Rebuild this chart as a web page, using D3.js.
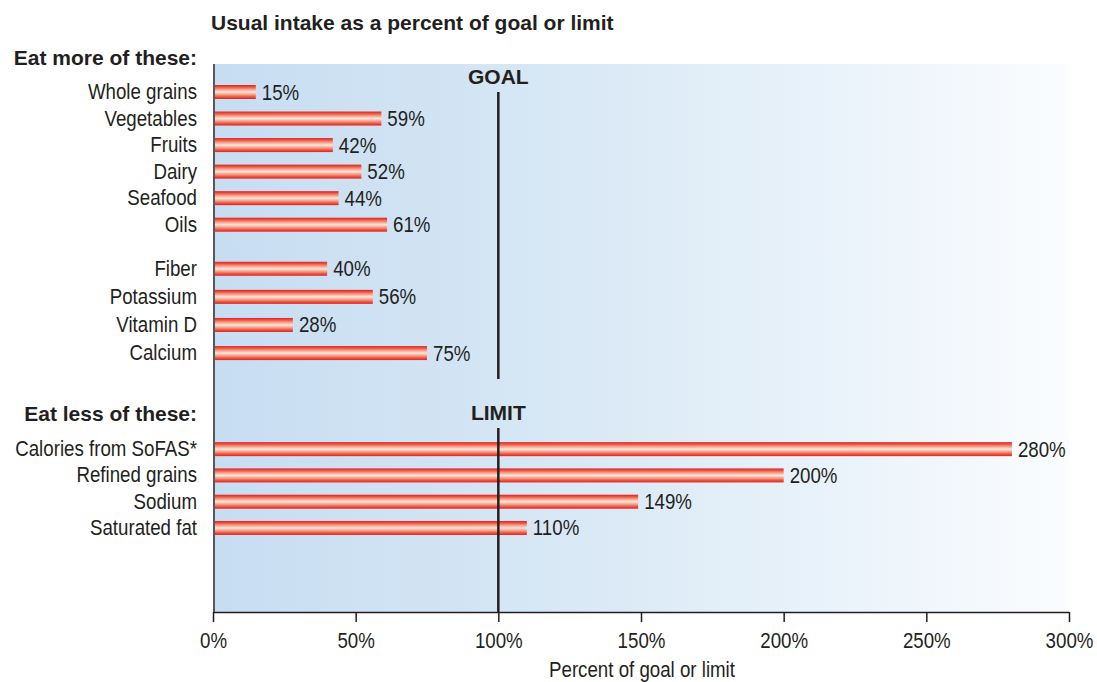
<!DOCTYPE html>
<html>
<head>
<meta charset="utf-8">
<script src="https://cdn.jsdelivr.net/npm/d3@7"></script>
<style>
  html, body { margin: 0; padding: 0; background: #fff; }
  svg { display: block; }
  .narrow { font-family: "Liberation Sans", Arial, sans-serif; fill: #231f20; }
  .bold { font-family: "Liberation Sans", Arial, sans-serif; font-weight: bold; fill: #231f20; }
</style>
</head>
<body>
<svg id="chart" width="1097" height="682"></svg>
<script>
// Food groups and nutrients to eat more of
const moreFoods = ["Whole grains", "Vegetables", "Fruits", "Dairy", "Seafood", "Oils"];
const moreFoodValues = [15, 59, 42, 52, 44, 61];
const moreNutrients = ["Fiber", "Potassium", "Vitamin D", "Calcium"];
const moreNutrientValues = [40, 56, 28, 75];
// Components to eat less of
const lessItems = ["Calories from SoFAS*", "Refined grains", "Sodium", "Saturated fat"];
const lessValues = [280, 200, 149, 110];
// Axis ticks
const xTicks = [0, 50, 100, 150, 200, 250, 300];
const referenceValue = 100;

const svg = d3.select("#chart");
const plotLeft = 213, plotRight = 1069, plotTop = 64, plotBottom = 612;
const squeeze = 0.85;   // horizontal condensing for the regular-weight text
const labelSize = 22;

const x = d3.scaleLinear().domain([0, 300]).range([plotLeft, plotRight]);

// Row slots: groups separated by gaps (in row units)
const groups = [
  { names: moreFoods, values: moreFoodValues, gapBefore: 0, step: 1 },
  { names: moreNutrients, values: moreNutrientValues, gapBefore: 0.66, step: 1.059 },
  { names: lessItems, values: lessValues, gapBefore: 2.62, step: 0.99 }
];
const rows = [];
let slot = 0;
groups.forEach((g, gi) => {
  slot += g.gapBefore;
  g.names.forEach((n, i) => {
    if (i > 0 || gi > 0) slot += (i === 0 ? 1 : g.step);
    rows.push({ name: n, value: g.values[i], slot: slot, group: gi });
  });
});
const y = d3.scaleLinear().domain([0, 1]).range([92, 118.54]);
const barH = 14;

const defs = svg.append("defs");
const bg = defs.append("linearGradient").attr("id", "bg").attr("x1", 0).attr("x2", 1).attr("y1", 0).attr("y2", 0);
bg.append("stop").attr("offset", "0%").attr("stop-color", "#c7ddf2");
bg.append("stop").attr("offset", "35%").attr("stop-color", "#d5e6f4");
bg.append("stop").attr("offset", "70%").attr("stop-color", "#e8f2fa");
bg.append("stop").attr("offset", "100%").attr("stop-color", "#fafcfe");

const barGrad = defs.append("linearGradient").attr("id", "bar").attr("x1", 0).attr("x2", 0).attr("y1", 0).attr("y2", 1);
[["0%", "#e4211c"], ["12%", "#ea4a3a"], ["32%", "#f5a18b"], ["50%", "#fde6da"], ["68%", "#f5a18b"], ["88%", "#ea4a3a"], ["100%", "#e4211c"]]
  .forEach(([o, c]) => barGrad.append("stop").attr("offset", o).attr("stop-color", c));

// Plot background
svg.append("rect").attr("x", plotLeft).attr("y", plotTop).attr("width", plotRight - plotLeft).attr("height", plotBottom - plotTop)
  .attr("fill", "url(#bg)");

// Title
svg.append("text").attr("class", "bold").attr("x", 211).attr("y", 30).attr("font-size", 21).text("Usual intake as a percent of goal or limit");

// Section headers
svg.append("text").attr("class", "bold").attr("x", 197).attr("y", 65).attr("text-anchor", "end").attr("font-size", 21).text("Eat more of these:");
svg.append("text").attr("class", "bold").attr("x", 197).attr("y", 421).attr("text-anchor", "end").attr("font-size", 21).text("Eat less of these:");

// Bars
svg.append("g").selectAll("rect").data(rows).join("rect")
  .attr("x", x(0)).attr("y", d => y(d.slot) - barH / 2)
  .attr("width", d => x(d.value) - x(0)).attr("height", barH)
  .attr("fill", "url(#bar)");

// Value labels
svg.append("g").selectAll("text").data(rows).join("text")
  .attr("class", "narrow").attr("font-size", labelSize)
  .attr("transform", d => `translate(${x(d.value) + 6},${y(d.slot) + 7.5}) scale(${squeeze},1)`)
  .text(d => d.value + "%");

// Category labels
svg.append("g").selectAll("text").data(rows).join("text")
  .attr("class", "narrow").attr("font-size", labelSize).attr("text-anchor", "end")
  .attr("transform", d => `translate(197,${y(d.slot) + 7}) scale(${squeeze},1)`)
  .text(d => d.name);

// Goal and limit reference lines
svg.append("line").attr("x1", x(referenceValue)).attr("x2", x(referenceValue))
  .attr("y1", 92).attr("y2", 379)
  .attr("stroke", "#231f20").attr("stroke-width", 2.5);
svg.append("line").attr("x1", x(referenceValue)).attr("x2", x(referenceValue))
  .attr("y1", 428).attr("y2", plotBottom)
  .attr("stroke", "#231f20").attr("stroke-width", 2.5);
svg.append("text").attr("class", "bold").attr("x", x(referenceValue)).attr("y", 84).attr("text-anchor", "middle").attr("font-size", 21).text("GOAL");
svg.append("text").attr("class", "bold").attr("x", x(referenceValue)).attr("y", 420).attr("text-anchor", "middle").attr("font-size", 21).text("LIMIT");

// Y axis line
svg.append("line").attr("x1", plotLeft + 1).attr("x2", plotLeft + 1).attr("y1", plotTop).attr("y2", plotBottom)
  .attr("stroke", "#58585a").attr("stroke-width", 2);

// X axis
const xAxis = d3.axisBottom(x).tickValues(xTicks).tickFormat(d => d + "%").tickSize(10).tickSizeOuter(0);
const ax = svg.append("g").attr("transform", `translate(0,${plotBottom})`).call(xAxis);
ax.select(".domain").attr("stroke", "#231f20").attr("stroke-width", 1.5);
ax.selectAll(".tick line").attr("stroke", "#231f20").attr("stroke-width", 1.5);
ax.selectAll(".tick text").attr("class", "narrow").attr("font-size", labelSize)
  .attr("y", 0).attr("dy", 0).attr("transform", `translate(0,36) scale(${squeeze},1)`)
  .style("font-family", "'Liberation Sans', Arial, sans-serif").attr("fill", "#231f20");

svg.append("text").attr("class", "narrow").attr("font-size", labelSize).attr("text-anchor", "middle")
  .attr("transform", `translate(${(plotLeft + plotRight) / 2 + 1},677) scale(${squeeze},1)`)
  .text("Percent of goal or limit");
</script>
</body>
</html>
